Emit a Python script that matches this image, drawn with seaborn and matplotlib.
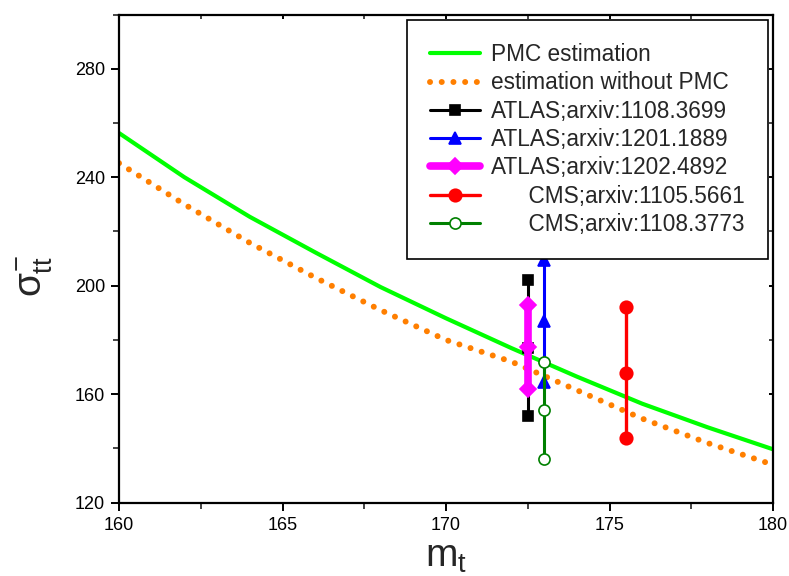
import matplotlib
matplotlib.use("Agg")
import matplotlib.pyplot as plt
import seaborn as sns
import pandas as pd

# Theoretical cross-section curves (pb) versus top mass (GeV)
mass_grid = [160, 162, 164, 166, 168, 170, 172, 174, 176, 178, 180]
sigma_pmc = [256.3, 240.0, 225.4, 212.3, 199.5, 188.0, 177.0, 166.5, 156.5, 147.8, 139.7]
sigma_no_pmc = [245.2, 230.0, 215.8, 203.0, 191.0, 180.0, 172.0, 161.5, 151.0, 142.0, 134.0]

# Measurements: top mass, central value, total uncertainty
exp_labels = ["ATLAS;arxiv:1108.3699", "ATLAS;arxiv:1201.1889", "ATLAS;arxiv:1202.4892",
              "      CMS;arxiv:1105.5661", "      CMS;arxiv:1108.3773"]
exp_mass = [172.5, 173.0, 172.5, 175.5, 173.0]
exp_sigma = [177.0, 187.0, 177.5, 168.0, 154.0]
exp_error = [25.0, 22.5, 15.5, 24.0, 18.0]

exp_colors = ["black", "#0000ff", "#ff00ff", "#ff0000", "#008000"]
exp_markers = ["s", "^", "D", "o", "o"]
exp_msize = [7, 9, 8, 9, 8]
exp_lw = [2.2, 2.2, 5.5, 2.4, 2.2]
exp_face = ["black", "#0000ff", "#ff00ff", "#ff0000", "white"]

sns.set_theme(style="ticks")
plt.rcParams["font.family"] = ["Liberation Sans", "DejaVu Sans"]
plt.rcParams["mathtext.fontset"] = "custom"
plt.rcParams["mathtext.rm"] = "Liberation Sans"
plt.rcParams["mathtext.it"] = "Liberation Sans"
plt.rcParams["mathtext.bf"] = "Liberation Sans:bold"

fig = plt.figure(figsize=(7.89, 5.76), dpi=100)
fig.patch.set_facecolor("white")
ax = fig.add_axes([119 / 789, 1 - 502.7 / 576, (773 - 119) / 789, (502.7 - 14.5) / 576])
ax.set_facecolor("white")

curves = pd.DataFrame({"m": mass_grid, "pmc": sigma_pmc, "nopmc": sigma_no_pmc})
sns.lineplot(data=curves, x="m", y="pmc", ax=ax, color="#00ff00", lw=3.0,
             label="PMC estimation")
sns.lineplot(data=curves, x="m", y="nopmc", ax=ax, color="#ff7f00", lw=4.3,
             linestyle=(0, (0.01, 1.95)), dash_capstyle="round",
             label="estimation without PMC")

for lab, m, s, e, c, mk, ms, lw, fc in zip(exp_labels, exp_mass, exp_sigma, exp_error,
                                           exp_colors, exp_markers, exp_msize, exp_lw, exp_face):
    pts = pd.DataFrame({"m": [m, m, m], "s": [s - e, s, s + e]})
    sns.lineplot(data=pts, x="m", y="s", ax=ax, estimator=None, sort=False,
                 color=c, lw=lw, marker=mk, markersize=ms,
                 markerfacecolor=fc, markeredgecolor=c, markeredgewidth=1.2,
                 label=lab)

ax.set_xlim(160, 180)
ax.set_ylim(120, 300)
ax.set_xticks([160, 165, 170, 175, 180])
ax.set_xticks([162.5, 167.5, 172.5, 177.5], minor=True)
ax.set_yticks([120, 160, 200, 240, 280])
ax.set_yticks([140, 180, 220, 260, 300], minor=True)

for sp in ax.spines.values():
    sp.set_visible(True)
    sp.set_linewidth(1.6)
    sp.set_color("black")

ax.tick_params(axis="both", which="major", direction="out", length=6, width=1.4,
               labelsize=13, colors="black", pad=4)
ax.tick_params(axis="both", which="minor", direction="out", length=4, width=1.2)
ax.tick_params(axis="both", which="both", top=True, right=True)
# short inward marks on the top and right frame
for t in ax.xaxis.get_major_ticks() + ax.xaxis.get_minor_ticks():
    t.tick2line.set_marker(3)
    t.tick2line.set_markersize(3)
for t in ax.yaxis.get_major_ticks() + ax.yaxis.get_minor_ticks():
    t.tick2line.set_marker(0)
    t.tick2line.set_markersize(3)

ax.set_xlabel(r"$\mathrm{m}_{t}$", fontsize=28)
ax.xaxis.set_label_coords(0.5, -0.075)
ax.set_ylabel(r"$\sigma^{-}_{tt}$", fontsize=28)
ax.yaxis.set_label_coords(-0.098, 0.465)

leg = ax.legend(loc="upper right", bbox_to_anchor=(0.9924, 0.9887), fontsize=16.3,
                frameon=True, fancybox=False, edgecolor="black", framealpha=1,
                handlelength=2.2, handletextpad=0.5, labelspacing=0.235,
                borderpad=1.02, borderaxespad=0)
leg.get_frame().set_linewidth(1.2)

fig.savefig("out.png", dpi=100, facecolor="white")
